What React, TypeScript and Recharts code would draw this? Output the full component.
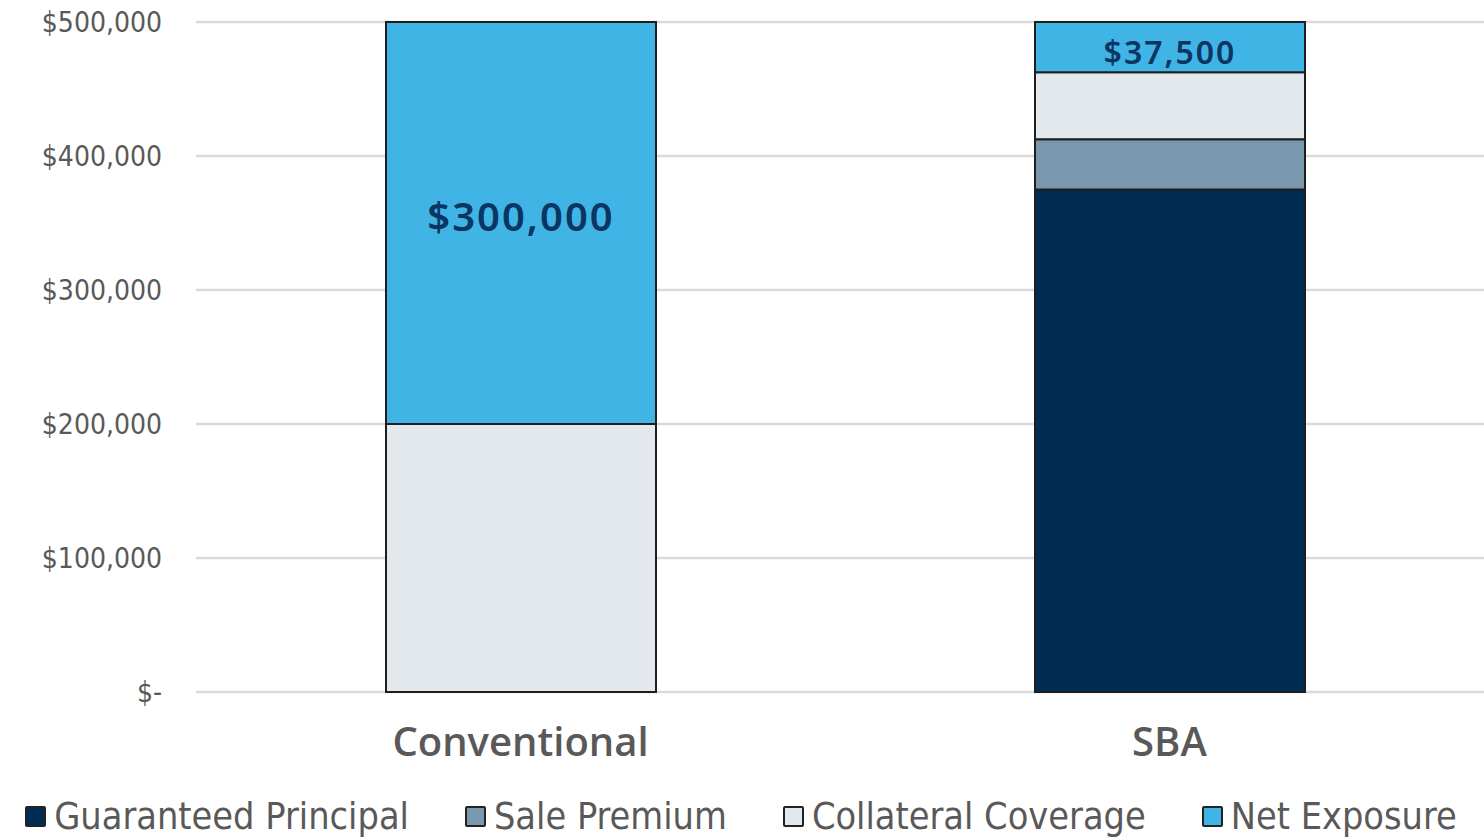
import React from 'react';
import { BarChart, Bar, XAxis, YAxis, CartesianGrid, Legend, LabelList } from 'recharts';

const categories = ['Conventional', 'SBA'];
const guaranteedPrincipal = [0, 375000];
const salePremium = [0, 37500];
const collateralCoverage = [200000, 50000];
const netExposure = [300000, 37500];
const yTicks = [0, 100000, 200000, 300000, 400000, 500000];

const seriesMeta = [
  { key: 'guaranteed', name: 'Guaranteed Principal', color: '#012D55' },
  { key: 'premium', name: 'Sale Premium', color: '#7A98AD' },
  { key: 'collateral', name: 'Collateral Coverage', color: '#E3E8ED' },
  { key: 'net', name: 'Net Exposure', color: '#41B4E6' },
];

const data = categories.map((name, i) => ({
  name,
  guaranteed: guaranteedPrincipal[i],
  premium: salePremium[i],
  collateral: collateralCoverage[i],
  net: netExposure[i],
}));

const COND = '"DejaVu Sans Condensed", "DejaVu Sans", sans-serif';

const money = (v: number) => (v === 0 ? '$-' : '$' + v.toLocaleString('en-US'));

const NetLabel = (props: any) => {
  const { x, y, width, height, value } = props;
  if (!value) return null;
  const big = height > 100;
  return (
    <text
      x={x + width / 2}
      y={y + height / 2 + (big ? -8 : 4)}
      textAnchor="middle"
      dominantBaseline="central"
      fill="#0B3563"
      fontFamily='"Noto Sans", sans-serif'
      fontWeight={600}
      letterSpacing={2}
      fontSize={big ? 40 : 32}
    >
      {money(value)}
    </text>
  );
};

const LegendContent = () => (
  <div
    style={{
      display: 'flex',
      justifyContent: 'center',
      gap: 56,
      fontFamily: COND,
      fontSize: 37.5,
      color: '#595959',
      paddingTop: 6,
      paddingRight: 12,
      whiteSpace: 'nowrap',
    }}
  >
    {seriesMeta.map((s) => (
      <div key={s.key} style={{ display: 'flex', alignItems: 'center', gap: 8 }}>
        <span
          style={{
            display: 'inline-block',
            width: 17,
            height: 17,
            background: s.color,
            border: '2px solid #222',
            borderRadius: 2,
          }}
        />
        <span>{s.name}</span>
      </div>
    ))}
  </div>
);

export default function App() {
  return (
    <div
      style={{
        position: 'absolute',
        left: 0,
        top: 0,
        width: 1484,
        height: 838,
        overflow: 'hidden',
        background: '#fff',
      }}
    >
      <BarChart
        width={1494}
        height={838}
        data={data}
        margin={{ top: 22, right: 0, left: 0, bottom: 0 }}
        barSize={270}
      >
        <CartesianGrid vertical={false} stroke="#DADADA" strokeWidth={2.5} />
        <XAxis
          dataKey="name"
          axisLine={false}
          tickLine={false}
          tickSize={0}
          tickMargin={36}
          height={96}
          tick={{ fontSize: 40, fontFamily: '"Open Sans", sans-serif', fill: '#595959', fontWeight: 600 }}
        />
        <YAxis
          width={196}
          domain={[0, 500000]}
          ticks={yTicks}
          axisLine={false}
          tickLine={false}
          tickSize={0}
          tickMargin={34}
          tickFormatter={money}
          tick={{ fontSize: 28, fontFamily: COND, fill: '#595959' }}
        />
        <Legend verticalAlign="bottom" height={50} content={<LegendContent />} />
        {seriesMeta.map((s) => (
          <Bar
            key={s.key}
            dataKey={s.key}
            name={s.name}
            stackId="a"
            fill={s.color}
            stroke="#1E1E1E"
            strokeWidth={2}
            isAnimationActive={false}
          >
            {s.key === 'net' && <LabelList dataKey="net" content={<NetLabel />} />}
          </Bar>
        ))}
      </BarChart>
    </div>
  );
}
